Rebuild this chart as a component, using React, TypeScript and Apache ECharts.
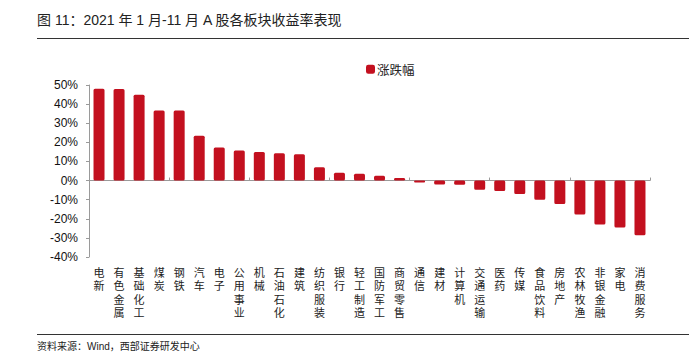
import React, { useEffect, useRef } from "react";
import * as echarts from "echarts";

const categories = [
  "电新", "有色金属", "基础化工", "煤炭", "钢铁", "汽车", "电子", "公用事业",
  "机械", "石油石化", "建筑", "纺织服装", "银行", "轻工制造", "国防军工",
  "商贸零售", "通信", "建材", "计算机", "交通运输", "医药", "传媒",
  "食品饮料", "房地产", "农林牧渔", "非银金融", "家电", "消费服务",
];
const changeValues = [
  48.0, 47.9, 44.9, 36.6, 36.6, 23.5, 17.3, 15.7, 15.0, 14.3, 13.8, 6.9,
  4.1, 3.5, 2.5, 1.4, -1.0, -2.0, -2.2, -4.8, -5.5, -7.0, -10.0, -12.3,
  -17.8, -23.0, -24.6, -28.6,
];
const seriesName = "涨跌幅";
const titleText = "图 11：2021 年 1 月-11 月 A 股各板块收益率表现";
const sourceText = "资料来源：Wind，西部证券研发中心";

export default function App() {
  const ref = useRef<HTMLDivElement>(null);
  useEffect(() => {
    if (!ref.current) return;
    const chart = echarts.init(ref.current, undefined, { renderer: "svg" });
    const cjk = "'Noto Sans CJK SC', 'Noto Sans', sans-serif";
    const mixed = "'Liberation Sans', 'Noto Sans CJK SC', sans-serif";
    chart.setOption({
      animation: false,
      backgroundColor: "#ffffff",
      grid: { left: 89, right: 49, top: 85, bottom: 98, containLabel: false },
      legend: {
        data: [seriesName],
        left: 366,
        top: 63,
        itemWidth: 9,
        itemHeight: 9,
        icon: "roundRect",
        padding: 0,
        textStyle: { fontSize: 12.5, color: "#222", fontFamily: cjk, padding: [0, 0, 0, -3] },
      },
      xAxis: [
        {
          type: "category",
          data: categories,
          position: "bottom",
          axisLine: { show: true, onZero: true, lineStyle: { color: "#9a9a9a", width: 1 } },
          axisTick: { show: true, inside: true, length: 3, lineStyle: { color: "#9a9a9a" } },
          axisLabel: { show: false },
          splitLine: { show: false },
        },
        {
          type: "category",
          data: categories,
          position: "bottom",
          axisLine: { show: false, onZero: false },
          axisTick: { show: false },
          axisLabel: {
            show: true,
            interval: 0,
            margin: 9,
            fontSize: 11,
            lineHeight: 13.5,
            color: "#222",
            fontFamily: mixed,
            verticalAlign: "top",
            formatter: (v: string) => v.split("").join("\n"),
          },
          splitLine: { show: false },
        },
      ],
      yAxis: {
        type: "value",
        min: -40,
        max: 50,
        interval: 10,
        axisLine: { show: true, lineStyle: { color: "#9a9a9a" } },
        axisTick: { show: true, length: 3, lineStyle: { color: "#9a9a9a" } },
        splitLine: { show: false },
        axisLabel: {
          formatter: "{value}%",
          fontSize: 12,
          margin: 11,
          color: "#111",
          fontFamily: "'Liberation Sans', Arial, sans-serif",
        },
      },
      series: [
        {
          name: seriesName,
          type: "bar",
          xAxisIndex: 0,
          data: changeValues,
          barWidth: 11,
          itemStyle: { color: "#C3101F", borderRadius: 1.5 },
        },
      ],
      graphic: [
        {
          type: "text",
          left: 37,
          top: 13,
          style: {
            text: titleText,
            fontSize: 14,
            fill: "#222",
            fontFamily: mixed,
          },
        },
        {
          type: "line",
          shape: { x1: 37, y1: 38.5, x2: 689, y2: 38.5 },
          style: { stroke: "#333", lineWidth: 1 },
        },
        {
          type: "line",
          shape: { x1: 37, y1: 334.5, x2: 689, y2: 334.5 },
          style: { stroke: "#333", lineWidth: 1 },
        },
        {
          type: "text",
          left: 37,
          top: 341,
          style: {
            text: sourceText,
            fontSize: 10,
            fill: "#222",
            fontFamily: mixed,
          },
        },
      ],
    });
    return () => chart.dispose();
  }, []);
  return (
    <div
      ref={ref}
      style={{ position: "fixed", left: 0, top: 0, width: 699, height: 355 }}
    />
  );
}
